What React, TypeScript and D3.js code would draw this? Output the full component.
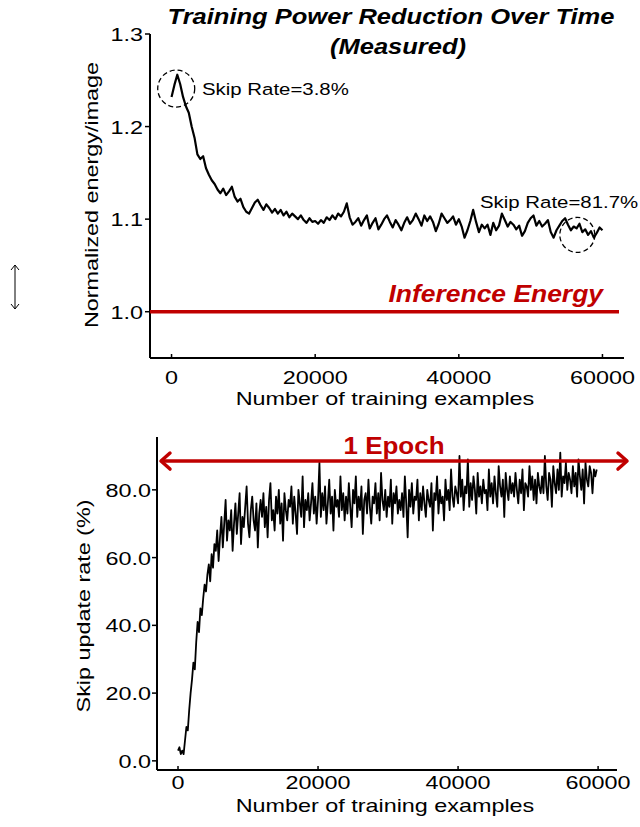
import React from "react";
import * as d3 from "d3";

// ---------- data ----------
const energyStep = 400;
const energyValues = [
  1.232, 1.245, 1.256, 1.246, 1.232, 1.222, 1.215, 1.2, 1.188, 1.17,
  1.165, 1.168, 1.155, 1.148, 1.142, 1.138, 1.132, 1.128, 1.133, 1.126,
  1.13, 1.135, 1.124, 1.119, 1.122, 1.113, 1.108, 1.106, 1.112, 1.118,
  1.121, 1.115, 1.11, 1.116, 1.112, 1.107, 1.111, 1.106, 1.11, 1.104,
  1.108, 1.102, 1.106, 1.103, 1.1, 1.104, 1.099, 1.096, 1.101, 1.097,
  1.098, 1.095, 1.099, 1.096, 1.102, 1.099, 1.104, 1.1, 1.106, 1.103,
  1.108, 1.117, 1.102, 1.094, 1.097, 1.101, 1.093, 1.099, 1.104, 1.09,
  1.096, 1.101, 1.089, 1.094, 1.1, 1.104, 1.097, 1.091, 1.099, 1.094,
  1.088, 1.096, 1.102, 1.095, 1.099, 1.106, 1.1, 1.093, 1.104, 1.098,
  1.103, 1.097, 1.087, 1.095, 1.106, 1.101, 1.096, 1.099, 1.103, 1.094,
  1.1, 1.092, 1.08, 1.088, 1.098, 1.11, 1.097, 1.086, 1.094, 1.09,
  1.094, 1.083, 1.096, 1.088, 1.093, 1.106, 1.099, 1.092, 1.097, 1.094,
  1.089, 1.093, 1.082, 1.087, 1.096, 1.101, 1.104, 1.093, 1.098, 1.092,
  1.095, 1.099, 1.086, 1.08, 1.088, 1.093, 1.098, 1.101, 1.094, 1.088,
  1.092, 1.09, 1.095, 1.086, 1.089, 1.083, 1.087, 1.08, 1.085, 1.091,
  1.088,
];

const skipStep = 200;
const skipValues = [
  3, 4, 2, 3, 2, 6, 10, 9, 15, 20, 24, 29, 27, 35, 41, 38, 45, 43, 48, 52,
  50, 55, 58, 53, 61, 57, 64, 62, 68, 59, 66, 72, 63, 70, 77, 65, 71, 68, 74, 62,
  70, 76, 67, 73, 79, 64, 72, 69, 75, 81, 70, 66, 74, 78, 71, 68, 76, 63, 73, 77,
  72, 79, 69, 75, 66, 77, 82, 71, 74, 68, 78, 73, 80, 70, 76, 65, 79, 74, 71, 77,
  75, 81, 70, 78, 73, 67, 80, 76, 72, 84, 69, 77, 74, 79, 71, 76, 82, 73, 78, 70,
  77, 88, 72, 79, 74, 81, 70, 76, 83, 73, 78, 68, 80, 75, 77, 72, 84, 74, 79, 71,
  78, 73, 82, 75, 69, 80, 76, 84, 72, 78, 74, 81, 67, 77, 79, 73, 83, 75, 70, 78,
  76, 82, 73, 79, 71, 85, 77, 74, 80, 72, 78, 75, 83, 70, 79, 76, 81, 73, 77, 74,
  79, 72, 84, 76, 66, 80, 75, 82, 73, 78, 77, 83, 71, 79, 74, 81, 76, 72, 80, 77,
  75, 82, 68, 79, 77, 84, 73, 80, 76, 78, 71, 83, 77, 80, 74, 86, 78, 75, 81, 79,
  76, 90, 78, 83, 74, 81, 79, 89, 75, 82, 77, 84, 80, 73, 85, 78, 81, 76, 83, 79,
  80, 74, 86, 78, 82, 76, 84, 79, 75, 87, 81, 78, 83, 72, 85, 80, 77, 84, 79, 82,
  78, 85, 80, 76, 83, 79, 86, 74, 82, 81, 78, 87, 80, 84, 77, 83, 76, 85, 81, 79,
  84, 79, 90, 81, 77, 85, 83, 75, 87, 82, 79, 86, 80, 91, 78, 84, 82, 88, 80, 85,
  83, 79, 87, 81, 85, 78, 89, 84, 80, 86, 76, 88, 83, 81, 87, 85, 79, 86, 84, 86,
];

const xTicks = [0, 20000, 40000, 60000];
const energyTicks = [1.0, 1.1, 1.2, 1.3];
const skipTicks = [0, 20, 40, 60, 80];
const inferenceLevel = 1.0;
const annotations = [
  { x: 650, y: 1.241, label: "Skip Rate=3.8%" },
  { x: 56500, y: 1.083, label: "Skip Rate=81.7%" },
];

const RED = "#c00000";
const FONT = "Arial, 'Liberation Sans', Helvetica, sans-serif";

type TProps = {
  x: number; y: number; fs: number; s?: number; anchor?: string;
  weight?: string; italic?: boolean; fill?: string; rotate?: boolean; children: React.ReactNode;
};
function T({ x, y, fs, s = 1.23, anchor = "start", weight = "normal", italic = false, fill = "#000", rotate = false, children }: TProps) {
  return (
    <text
      transform={`translate(${x},${y})${rotate ? " rotate(-90)" : ""} scale(${s},1)`}
      fontSize={fs}
      fontFamily={FONT}
      fontWeight={weight}
      fontStyle={italic ? "italic" : "normal"}
      textAnchor={anchor}
      fill={fill}
    >
      {children}
    </text>
  );
}

export default function App() {
  // top chart scales
  const tx = d3.scaleLinear().domain([-3000, 63000]).range([150, 624]);
  const ty = d3.scaleLinear().domain([0.95, 1.3]).range([358, 34]);
  // bottom chart scales
  const bx = d3.scaleLinear().domain([-3000, 62700]).range([157, 617]);
  const by = d3.scaleLinear().domain([-2.7, 95.6]).range([770, 437]);

  const energyLine = d3
    .line<number>()
    .x((_, i) => tx(i * energyStep))
    .y((d) => ty(d));
  const skipLine = d3
    .line<number>()
    .x((_, i) => bx(i * skipStep))
    .y((d) => by(d));

  const epochY = by(88.5);
  const epochX0 = 161;
  const epochX1 = 627;

  return (
    <svg
      width={640}
      height={827}
      style={{ position: "absolute", left: 0, top: 0, background: "#fff" }}
    >
      <rect x={0} y={0} width={640} height={827} fill="#fff" />

      {/* decorative double arrow on the left */}
      <g stroke="#000" strokeWidth={1} fill="none">
        <line x1={15} y1={265} x2={15} y2={309} />
        <polyline points="11,270 15,265 19,270" />
        <polyline points="11,304 15,309 19,304" />
      </g>

      {/* ---------------- TOP CHART ---------------- */}
      <T x={391} y={24} fs={22} s={1.16} anchor="middle" weight="bold" italic>
        Training Power Reduction Over Time
      </T>
      <T x={398} y={54} fs={22} s={1.16} anchor="middle" weight="bold" italic>
        (Measured)
      </T>

      {/* axes */}
      <line x1={tx.range()[0]} y1={ty(1.3)} x2={tx.range()[0]} y2={ty.range()[0]} stroke="#000" strokeWidth={2} />
      <line x1={tx.range()[0]} y1={ty.range()[0]} x2={tx.range()[1]} y2={ty.range()[0]} stroke="#000" strokeWidth={2} />
      {energyTicks.map((t) => (
        <g key={t}>
          <line x1={tx.range()[0] - 5} x2={tx.range()[0]} y1={ty(t)} y2={ty(t)} stroke="#000" strokeWidth={1.5} />
          <T x={143} y={ty(t) + 7} fs={19} anchor="end">{t.toFixed(1)}</T>
        </g>
      ))}
      {xTicks.map((t) => (
        <g key={t}>
          <line x1={tx(t)} x2={tx(t)} y1={ty.range()[0]} y2={ty.range()[0] - 4} stroke="#000" strokeWidth={1.5} />
          <T x={tx(t)} y={384} fs={19} anchor="middle">{String(t)}</T>
        </g>
      ))}
      <T x={385} y={405} fs={19} anchor="middle">Number of training examples</T>
      <T x={98} y={195} fs={19} anchor="middle" rotate>Normalized energy/image</T>

      {/* inference energy */}
      <line x1={tx.range()[0]} x2={619} y1={ty(inferenceLevel)} y2={ty(inferenceLevel)} stroke={RED} strokeWidth={3.5} />
      <T x={603} y={302} fs={23} s={1.15} anchor="end" weight="bold" italic fill={RED}>Inference Energy</T>

      {/* energy line */}
      <path d={energyLine(energyValues) || ""} fill="none" stroke="#000" strokeWidth={2.2} strokeLinejoin="round" />

      {/* annotations */}
      <circle cx={tx(annotations[0].x)} cy={ty(annotations[0].y)} r={18.5} fill="none" stroke="#000" strokeWidth={1.3} strokeDasharray="5,3" />
      <T x={202} y={95} fs={17} s={1.2}>{annotations[0].label}</T>
      <circle cx={tx(annotations[1].x)} cy={ty(annotations[1].y)} r={17.5} fill="none" stroke="#000" strokeWidth={1.3} strokeDasharray="5,3" />
      <T x={480} y={208} fs={17} s={1.2}>{annotations[1].label}</T>

      {/* ---------------- BOTTOM CHART ---------------- */}
      <line x1={bx.range()[0]} y1={by.range()[1]} x2={bx.range()[0]} y2={by.range()[0]} stroke="#000" strokeWidth={2} />
      <line x1={bx.range()[0]} y1={by.range()[0]} x2={bx.range()[1]} y2={by.range()[0]} stroke="#000" strokeWidth={2} />
      {skipTicks.map((t) => (
        <g key={t}>
          <line x1={bx.range()[0] - 5} x2={bx.range()[0]} y1={by(t)} y2={by(t)} stroke="#000" strokeWidth={1.5} />
          <T x={151} y={by(t) + 7} fs={19} anchor="end">{t.toFixed(1)}</T>
        </g>
      ))}
      {xTicks.map((t) => (
        <g key={t}>
          <line x1={bx(t)} x2={bx(t)} y1={by.range()[0]} y2={by.range()[0] - 4} stroke="#000" strokeWidth={1.5} />
          <T x={bx(t)} y={789} fs={19} anchor="middle">{String(t)}</T>
        </g>
      ))}
      <T x={385} y={812} fs={19} anchor="middle">Number of training examples</T>
      <T x={90} y={606} fs={19} anchor="middle" rotate>Skip update rate (%)</T>

      {/* skip line */}
      <path d={skipLine(skipValues) || ""} fill="none" stroke="#000" strokeWidth={1.8} strokeLinejoin="round" />

      {/* epoch arrow */}
      <g stroke={RED} strokeWidth={3.5} fill="none" strokeLinecap="round" strokeLinejoin="round">
        <line x1={epochX0 + 1} x2={epochX1 - 1} y1={epochY} y2={epochY} />
        <polyline points={`${epochX0 + 9},${epochY - 8} ${epochX0},${epochY} ${epochX0 + 9},${epochY + 8}`} />
        <polyline points={`${epochX1 - 9},${epochY - 8} ${epochX1},${epochY} ${epochX1 - 9},${epochY + 8}`} />
      </g>
      <T x={394} y={454} fs={23} s={1.13} anchor="middle" weight="bold" fill={RED}>1 Epoch</T>
    </svg>
  );
}
